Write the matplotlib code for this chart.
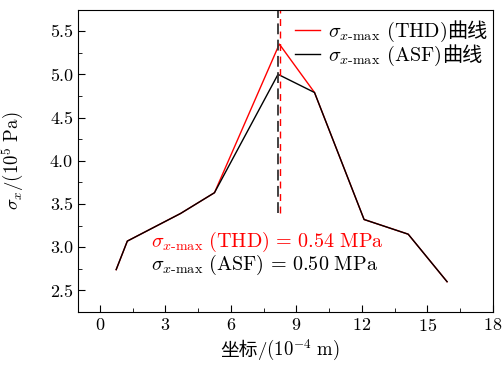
import numpy as np
import matplotlib.pyplot as plt
from matplotlib.ticker import MultipleLocator

plt.rcParams['font.family'] = ['cmr10', 'Noto Sans CJK SC']
plt.rcParams['mathtext.fontset'] = 'cm'
plt.rcParams['axes.formatter.use_mathtext'] = True
plt.rcParams['font.size'] = 13

# data
x = [0.75, 1.26, 3.7, 5.25, 8.22, 9.83, 12.1, 14.12, 15.9]
thd = [2.74, 3.07, 3.39, 3.63, 5.35, 4.79, 3.32, 3.15, 2.6]
asf_x = [0.75, 1.26, 3.7, 5.25, 8.16, 9.83, 12.1, 14.12, 15.9]
asf = [2.74, 3.07, 3.39, 3.63, 5.0, 4.79, 3.32, 3.15, 2.6]
peak_thd = 8.23
peak_asf = 8.16
xticks = [0, 3, 6, 9, 12, 15, 18]
names = ['THD', 'ASF']
peaks = ['0.54', '0.50']

fs_big = 14.5

fig = plt.figure(figsize=(5.03, 3.67), dpi=100)
ax = fig.add_axes([0.155, 0.150, 0.825, 0.824])

ax.plot(x, thd, color='red', lw=1.0, label=r'$\sigma_{x\text{-max}}$ (%s)' % names[0])
ax.plot(asf_x, asf, color='black', lw=1.0, label=r'$\sigma_{x\text{-max}}$ (%s)' % names[1])
ax.vlines(peak_asf, 3.4, 5.75, colors='#333333', linestyles=(0, (6, 3)), lw=1.3)
ax.vlines(peak_thd, 3.4, 5.75, colors='red', linestyles=(0, (5, 4)), lw=1.0)

ax.text(2.33, 3.065, r'$\sigma_{x\text{-max}}\ (\mathrm{%s})\,=\,%s\ \mathrm{MPa}$' % (names[0], peaks[0]),
        color='red', va='center', fontsize=fs_big)
ax.text(2.33, 2.79, r'$\sigma_{x\text{-max}}\ (\mathrm{%s})\,=\,%s\ \mathrm{MPa}$' % (names[1], peaks[1]),
        color='black', va='center', fontsize=fs_big)

ax.set_xlim(-1, 18)
ax.set_ylim(2.25, 5.75)
ax.set_xticks(xticks)
ax.xaxis.set_minor_locator(MultipleLocator(1.5))
ax.yaxis.set_major_locator(MultipleLocator(0.5))
ax.yaxis.set_minor_locator(MultipleLocator(0.25))
ax.yaxis.set_major_formatter(plt.FormatStrFormatter('%.1f'))
ax.tick_params(which='both', direction='in', top=False, right=False)
ax.tick_params(which='major', length=5)
ax.tick_params(which='minor', length=3)

ax.set_ylabel(r'$\sigma_x/(10^5\ \mathrm{Pa})$', fontsize=13.5)
ax.yaxis.set_label_coords(-0.125, 0.5)
leg = ax.legend(loc='upper left', bbox_to_anchor=(0.523, 0.967), frameon=False,
                handlelength=1.25, handletextpad=0.4, borderpad=0, borderaxespad=0,
                labelspacing=0.02, fontsize=fs_big)

# CJK parts drawn as separate texts (mathtext cannot fall back to a CJK font)
fig.canvas.draw()
r = fig.canvas.get_renderer()
inv = fig.transFigure.inverted()
for t in leg.get_texts():
    bb, info, descent = t._get_layout(r)
    ext = t.get_window_extent(r)
    px, py = inv.transform((ext.x1, ext.y0 + descent))
    fig.text(px, py, '曲线', family='Noto Sans CJK SC', va='baseline', ha='left', fontsize=fs_big)

cn = fig.text(220 / 503, 1 - 356 / 367, '坐标', family='Noto Sans CJK SC', va='baseline', ha='left',
              fontsize=13.5)
cext = cn.get_window_extent(r)
fig.text(inv.transform((cext.x1, 0))[0], 1 - 356 / 367, r'$/(10^{-4}\ \mathrm{m})$',
         va='baseline', ha='left', fontsize=13.5)

plt.savefig('out.png')
